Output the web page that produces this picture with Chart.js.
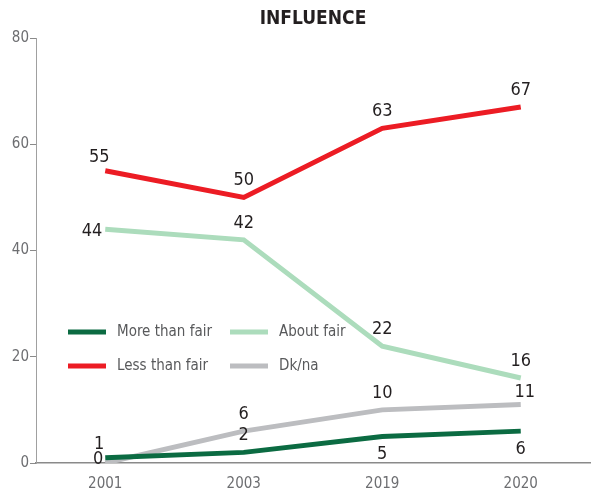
<!DOCTYPE html>
<html>
<head>
<meta charset="utf-8">
<script src="https://cdn.jsdelivr.net/npm/chart.js@4.4.1/dist/chart.umd.min.js"></script>
<style>
html,body{margin:0;padding:0;background:#fff;}
#wrap{position:relative;width:591px;height:491px;}
</style>
</head>
<body>
<div id="wrap"><canvas id="c" width="591" height="491"></canvas></div>
<script>
'use strict';
const years=['2001','2003','2019','2020'];
const moreThanFair=[1,2,5,6];
const lessThanFair=[55,50,63,67];
const aboutFair=[44,42,22,16];
const dkNa=[0,6,10,11];
const yTicks=[0,20,40,60,80];
const chartTitle='INFLUENCE';

const FONT="'Liberation Sans Narrow','DejaVu Sans Condensed',sans-serif";

// where each value label sits relative to its point
const labelSpots={
  0:['above-left','above','below','below'],
  1:['above-left','above','above','above'],
  2:['left','above','above','above'],
  3:['left-low','above','above','above-right']
};

const valueLabels={
  id:'valueLabels',
  afterDatasetsDraw(chart){
    const ctx=chart.ctx;
    ctx.save();
    ctx.font='18px '+FONT;
    ctx.fillStyle='#231f20';
    ctx.textBaseline='middle';
    chart.data.datasets.forEach((ds,di)=>{
      const meta=chart.getDatasetMeta(di);
      meta.data.forEach((pt,i)=>{
        const spot=labelSpots[di][i];
        let x=pt.x,y=pt.y;ctx.textAlign='center';
        if(spot==='above'){y-=17;}
        else if(spot==='below'){y+=18;}
        else if(spot==='left'){x-=3;y+=2;ctx.textAlign='right';}
        else if(spot==='left-low'){x-=2;y-=4;ctx.textAlign='right';}
        else if(spot==='above-left'){x-=6;y-=13;}
        else if(spot==='above-right'){x+=4;y-=12;}
        ctx.fillText(String(ds.data[i]),x,y);
      });
    });
    ctx.restore();
  }
};

const titleAndLegend={
  id:'titleAndLegend',
  afterDraw(chart){
    const ctx=chart.ctx;
    const a=chart.chartArea;
    ctx.save();
    ctx.font='bold 19px '+FONT;
    ctx.fillStyle='#231f20';
    ctx.textAlign='center';
    ctx.textBaseline='middle';
    ctx.fillText(chartTitle,(a.left+a.right)/2,19);
    // legend: two rows, filled column by column
    ctx.font='15px '+FONT;
    ctx.fillStyle='#58595b';
    ctx.textAlign='left';
    chart.data.datasets.forEach((ds,i)=>{
      const col=Math.floor(i/2),row=i%2;
      const x=a.left+32+col*162;
      const y=332+row*34;
      ctx.strokeStyle=ds.borderColor;
      ctx.lineWidth=5;
      ctx.beginPath();ctx.moveTo(x,y);ctx.lineTo(x+38,y);ctx.stroke();
      ctx.fillText(ds.label,x+49,y);
    });
    ctx.restore();
  }
};

const line=(label,data,color)=>({label,data,borderColor:color,backgroundColor:color,borderWidth:5,pointRadius:0,pointHoverRadius:0,tension:0,fill:false,borderCapStyle:'butt',borderJoinStyle:'miter'});

new Chart(document.getElementById('c'),{
  type:'line',
  data:{labels:years,datasets:[
    line('More than fair',moreThanFair,'#0b6b42'),
    line('Less than fair',lessThanFair,'#ec1c24'),
    line('About fair',aboutFair,'#acdcbc'),
    line('Dk/na',dkNa,'#bcbdc0')
  ]},
  options:{
    responsive:false,
    animation:false,
    events:[],
    layout:{padding:{top:38,right:1,left:0,bottom:0}},
    plugins:{legend:{display:false},title:{display:false},tooltip:{enabled:false}},
    scales:{
      x:{
        offset:true,
        grid:{display:false},
        border:{display:true,color:'#8a8a8a',width:1.5},
        ticks:{color:'#6d6e71',font:{family:FONT,size:15},padding:4,maxRotation:0},
        afterFit:s=>{s.height=28;}
      },
      y:{
        min:0,max:80,
        afterBuildTicks:s=>{s.ticks=yTicks.map(v=>({value:v}));},
        grid:{drawOnChartArea:false,drawTicks:true,tickLength:6,color:'#8a8a8a'},
        border:{display:true,color:'#a0a0a0',width:1},
        ticks:{color:'#6d6e71',font:{family:FONT,size:15},padding:1},
        afterFit:s=>{s.width=36;}
      }
    }
  },
  plugins:[valueLabels,titleAndLegend]
});
</script>
</body>
</html>
